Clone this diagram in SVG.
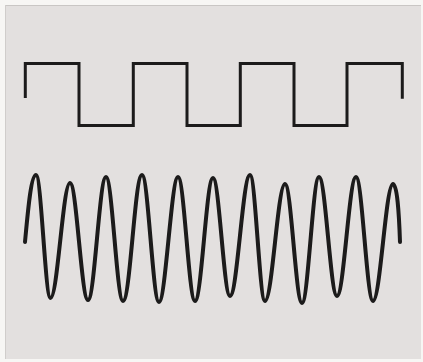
<svg xmlns="http://www.w3.org/2000/svg" width="423" height="362" viewBox="0 0 423 362">
  <style>
    .wave { fill: none; stroke: #1c1b1b; stroke-linejoin: miter; stroke-linecap: butt; }
    .square { stroke-width: 3; }
    .sine { stroke-width: 4; stroke-linejoin: round; stroke-linecap: round; }
  </style>
  <rect x="0" y="0" width="423" height="362" fill="#f7f6f4"/>
  <rect x="5" y="5" width="416" height="354" fill="#e3e0df"/>
  <line x1="5" y1="5.5" x2="421" y2="5.5" stroke="#c9c6c4" stroke-width="1"/>
  <line x1="5.5" y1="5" x2="5.5" y2="359" stroke="#d0cdcb" stroke-width="1"/>
  <path id="square-wave" class="wave square" d="M25.3,98 V63.5 H79 V125.5 H133.3 V63.5 H187 V125.5 H240.3 V63.5 H294 V125.5 H347 V63.5 H402.3 V98.7"/>
  <path id="sine-wave" class="wave sine" d="M25,242 C28,210 31,175 36,175
    C41.3,175 45.2,298 50.5,298
    C57.6,298 62.9,183 70,183
    C76.6,183 81.4,300 88,300
    C94.6,300 99.4,177 106,177
    C112.2,177 116.8,301 123,301
    C130.3,301 134.7,175 142,175
    C148.2,175 152.8,302 159,302
    C165.6,302 171.4,177 178,177
    C184.2,177 188.8,301 195,301
    C201.6,301 206.4,178 213,178
    C219.2,178 223.8,296 230,296
    C237.3,296 242.7,175 250,175
    C255.5,175 259.5,301 265,301
    C272.3,301 277.7,184 285,184
    C291.2,184 295.8,303 302,303
    C308.2,303 312.8,177 319,177
    C325.6,177 330.4,296 337,296
    C343.9,296 349.1,177 356,177
    C362.2,177 366.8,301 373,301
    C380.3,301 385.7,184 393,184
    C397,184 399,212 400,242"/>
</svg>
